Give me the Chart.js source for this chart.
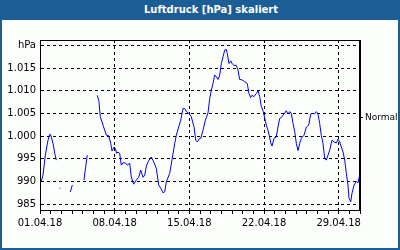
<!DOCTYPE html>
<html lang="de">
<head>
    <meta charset="UTF-8">
    <title>Luftdruck [hPa] skaliert</title>
    <script src="https://cdn.jsdelivr.net/npm/chart.js@4.4.0/dist/chart.umd.min.js"></script>
    <style>
        body { margin: 0; }
        .frame {
            position: absolute; left: 0; top: 0;
            width: 396px; height: 246px;
            border: 2px solid #1b5e95;
            background: #fcfefc;
        }
        .title-bar {
            position: absolute; left: 0; top: 0;
            width: 400px; height: 20px;
            background: #1b5e95;
            color: #fff;
            font: bold 10px "DejaVu Sans";
            line-height: 20px;
            text-align: center;
        }
        .title-bar span { position: relative; left: 11px; }
        #pressureChart { position: absolute; left: 0; top: 0; }
    </style>
</head>
<body>
    <div class="frame"></div>
    <div class="title-bar"><span>Luftdruck [hPa] skaliert</span></div>
    <canvas id="pressureChart" width="400" height="250"></canvas>

    <script>
        // days since 01.04.18 00:00, null = no data
        const days = [
            0.12, 0.28, 0.50, 0.75, 0.91, 1.00, 1.22, 1.38, 1.53, null,
            1.82, 1.90, null,
            2.84, 3.03, null,
            4.12, 4.28, 4.43, null,
            5.37, 5.53, 5.65, 5.91, 6.22, 6.44, 6.63, 6.75, 6.94, 7.06,
            7.19, 7.31, 7.47, 7.62, 7.78, 8.00, 8.18, 8.41, 8.56, 8.78,
            9.03, 9.25, 9.44, 9.66, 9.82, 9.97, 10.19, 10.43, 10.66, 10.90,
            11.13, 11.32, 11.53, 11.69, 11.84, 12.16, 12.37, 12.63, 12.78, 13.00,
            13.19, 13.41, 13.57, 13.72, 13.94, 14.18, 14.44, 14.60, 14.75, 14.97,
            15.07, 15.28, 15.50, 15.75, 15.91, 16.06, 16.22, 16.38, 16.53, 16.69,
            16.85, 17.00, 17.16, 17.32, 17.47, 17.56, 17.72, 17.88, 18.03, 18.19,
            18.40, 18.56, 18.72, 18.94, 19.19, 19.43, 19.59, 19.75, 19.87, 20.06,
            20.28, 20.44, 20.60, 20.75, 20.94, 21.07, 21.22, 21.37, 21.53, 21.63,
            21.75, 21.94, 22.15, 22.31, 22.47, 22.62, 22.78, 22.94, 23.09, 23.25,
            23.41, 23.56, 23.72, 23.88, 24.03, 24.19, 24.35, 24.50, 24.75, 24.97,
            25.19, 25.38, 25.53, 25.75, 25.91, 26.06, 26.22, 26.37, 26.53, 26.69,
            26.84, 27.00, 27.16, 27.37, 27.56, 27.78, 27.94, 28.10, 28.25, 28.41,
            28.57, 28.72, 28.87, 28.97, 29.13, 29.25, 29.44, 29.66, 29.81, 29.97
        ];
        const pressure = [
            990.0, 991.4, 995.8, 999.1, 1000.4, 1000.3, 998.4, 996.2, 994.7, null,
            988.5, 988.5, null,
            987.7, 989.2, null,
            990.3, 993.2, 995.8, null,
            1009.0, 1007.6, 1004.3, 1002.4, 1000.2, 1000.1, 998.4, 996.7, 997.6, 997.3,
            996.2, 996.5, 996.2, 993.6, 994.1, 994.1, 993.6, 994.0, 991.0, 989.4,
            990.3, 990.9, 992.5, 990.9, 991.4, 993.4, 994.6, 995.4, 994.3, 992.9,
            989.2, 988.5, 987.5, 987.7, 989.9, 991.8, 994.7, 998.4, 1000.2, 1002.0,
            1003.5, 1006.1, 1006.1, 1005.4, 1005.1, 1004.3, 1002.0, 999.1, 998.7, 999.5,
            999.5, 1001.3, 1003.5, 1005.1, 1008.3, 1010.1, 1011.6, 1013.5, 1013.1, 1012.5,
            1013.5, 1016.0, 1017.5, 1019.0, 1019.1, 1018.2, 1016.0, 1016.6, 1015.9, 1015.6,
            1015.6, 1014.6, 1012.5, 1012.4, 1012.0, 1011.6, 1009.4, 1008.5, 1009.0, 1008.7,
            1009.4, 1010.0, 1008.7, 1006.5, 1005.4, 1003.9, 1002.4, 1001.3, 999.8, 998.5,
            997.8, 999.5, 999.8, 1002.0, 1003.9, 1004.1, 1004.6, 1005.1, 1005.6, 1004.9,
            1005.4, 1005.0, 1002.8, 1001.0, 998.4, 996.8, 998.4, 999.5, 1000.2, 1002.0,
            1002.4, 1004.9, 1005.0, 1004.9, 1005.4, 1004.9, 1002.8, 1000.2, 998.4, 995.1,
            994.7, 995.8, 996.9, 999.1, 998.7, 998.5, 999.3, 998.7, 997.6, 996.5,
            994.7, 991.8, 989.2, 986.3, 985.5, 987.4, 989.2, 990.0, 989.7, 991.4
        ];

        const yTicks = [985, 990, 995, 1000, 1005, 1010, 1015, 1020];
        const yLabels = ['985', '990', '995', '1.000', '1.005', '1.010', '1.015', 'hPa'];
        const labelDays = [0, 7, 14, 21, 28];
        const dayLabels = ['01.04.18', '08.04.18', '15.04.18', '22.04.18', '29.04.18'];
        const normalValue = 1004.1;

        const yMin = 983.7, yMax = 1021.2;
        const font = { family: 'DejaVu Sans', size: 10 };

        const points = days.map((d, i) => ({ x: d, y: pressure[i] }));

        // box round the plot area
        const frameBox = {
            id: 'frameBox',
            afterDraw(chart) {
                const a = chart.chartArea, c = chart.ctx;
                c.save();
                c.strokeStyle = '#000';
                c.lineWidth = 1;
                c.strokeRect(Math.round(a.left) + 0.5, Math.round(a.top) + 0.5,
                    Math.round(a.right - a.left) - 1, Math.round(a.bottom - a.top));
                c.restore();
            }
        };

        new Chart(document.getElementById('pressureChart'), {
            type: 'line',
            data: {
                datasets: [{
                    data: points,
                    borderColor: '#0000e8',
                    borderWidth: 1,
                    pointRadius: 0,
                    tension: 0,
                    spanGaps: false
                }]
            },
            options: {
                responsive: false,
                animation: false,
                layout: { padding: { top: 40, left: 0, right: 0, bottom: 0 } },
                plugins: { legend: { display: false }, tooltip: { enabled: false } },
                scales: {
                    x: {
                        type: 'linear',
                        min: 0,
                        max: 30,
                        afterBuildTicks: s => { s.ticks = Array.from({ length: 31 }, (_, i) => ({ value: i })); },
                        afterFit: s => { s.height = 40; },
                        ticks: {
                            autoSkip: false,
                            maxRotation: 0,
                            padding: 3,
                            color: '#000',
                            font: font,
                            callback: v => {
                                const k = labelDays.indexOf(v);
                                return k >= 0 ? dayLabels[k] : '';
                            }
                        },
                        grid: {
                            color: ctx => (ctx.tick && ctx.tick.value % 7 === 0 && ctx.tick.value > 0 && ctx.tick.value < 30) ? '#000' : 'rgba(0,0,0,0)',
                            tickColor: '#000',
                            tickLength: 4,
                            lineWidth: 1
                        },
                        border: { color: '#000', dash: [3, 3] }
                    },
                    y: {
                        min: yMin,
                        max: yMax,
                        afterBuildTicks: s => { s.ticks = yTicks.map(v => ({ value: v })); },
                        afterFit: s => { s.width = 40; },
                        ticks: {
                            padding: 4,
                            color: '#000',
                            font: font,
                            callback: v => yLabels[yTicks.indexOf(v)]
                        },
                        grid: { color: '#000', drawTicks: false, lineWidth: 1 },
                        border: { color: '#000', dash: [3, 3] }
                    },
                    normal: {
                        position: 'right',
                        min: yMin,
                        max: yMax,
                        afterBuildTicks: s => { s.ticks = [{ value: normalValue }]; },
                        afterFit: s => { s.width = 40; },
                        ticks: {
                            padding: 2,
                            color: '#000',
                            font: { family: 'DejaVu Sans', size: 9 },
                            callback: () => 'Normal'
                        },
                        grid: { drawOnChartArea: false, drawTicks: true, tickLength: 3, color: '#000' },
                        border: { color: '#000' }
                    }
                }
            },
            plugins: [frameBox]
        });
    </script>
</body>
</html>
